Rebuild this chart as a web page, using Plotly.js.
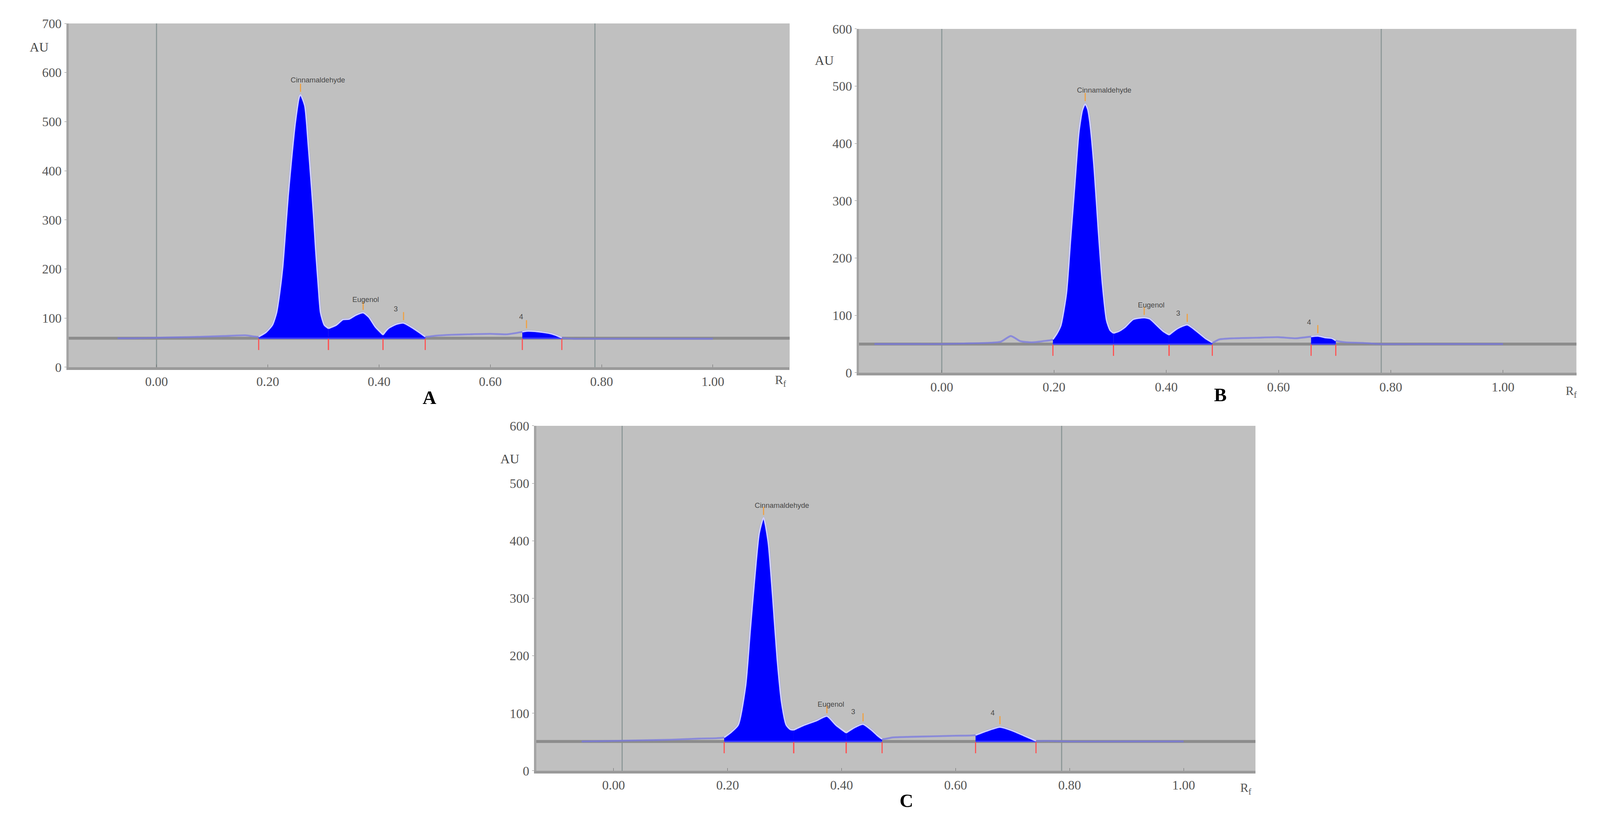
<!DOCTYPE html>
<html>
<head>
<meta charset="utf-8">
<script src="https://cdn.plot.ly/plotly-3.0.1.min.js"></script>
<style>html,body{margin:0;padding:0;overflow:hidden;background:#fff}</style>
</head>
<body>
<div id="chart"></div>
<script>
// densitograms, Rf vs AU
var peakNames = ['Cinnamaldehyde', 'Eugenol', '3', '4'];

// panel A
var rfA = [-0.07,-0.04,0.0,0.04,0.08,0.12,0.16,0.1836,0.1967,0.2083,0.2157,0.2209,0.2267,0.2317,0.2366,0.2425,0.2491,0.2564,0.2588,0.2666,0.2724,0.2774,0.2821,0.2861,0.2908,0.2949,0.3016,0.309,0.3234,0.335,0.346,0.358,0.3714,0.3816,0.3933,0.407,0.4166,0.431,0.444,0.4573,0.472,0.483,0.50,0.53,0.56,0.60,0.63,0.6575,0.665,0.68,0.695,0.71,0.72,0.7285,0.75,0.78,0.85,0.92,1.0];
var auA = [59,59,60,61,62,63.5,65,62,71,86,111,148,203,276,349,422,495,550,555,532,458,385,312,239,166,111,86,79,86,97,98,106,111,102,82,66,79,87.5,90,82,71,62,64,66,67,68,67,72,73.5,73,71,68,64,60,58,58,58,58,58];
var baseA = 59;
var startA = [0.1836, 0.309, 0.407, 0.6575];
var endA = [0.309, 0.407, 0.483, 0.7285];
var frontA = [0.0, 0.788];
var nameRfA = [0.29, 0.376, 0.43, 0.655];
var nameAuA = [585, 138, 119, 103];

// panel B
var rfB = [-0.12,-0.08,-0.04,0.0,0.04,0.08,0.105,0.123,0.14,0.16,0.18,0.198,0.205,0.212,0.222,0.2294,0.2368,0.2443,0.2505,0.2555,0.26,0.264,0.2715,0.279,0.2863,0.2937,0.3,0.306,0.315,0.326,0.341,0.3606,0.3705,0.3854,0.395,0.405,0.4198,0.4373,0.452,0.4695,0.482,0.494,0.52,0.56,0.6,0.63,0.658,0.67,0.685,0.695,0.702,0.72,0.75,0.78,0.85,0.92,1.0];
var auB = [50,50,50,50,51,52,54,64,55,53,55,58,68,82,138,232,326,420,458,469,460,436,357,248,154,91,74,69,72,79,93,96,94,80.5,72,66,77,83.6,74,60,52.5,58,60,61,62,60,63,64,61,60,56,53,52,50,50,50,50];
var baseB = 50;
var startB = [0.198, 0.306, 0.405, 0.658];
var endB = [0.306, 0.405, 0.482, 0.702];
var frontB = [0.0, 0.783];
var nameRfB = [0.289, 0.373, 0.421, 0.654];
var nameAuB = [493, 118, 104, 88];

// panel C
var rfC = [-0.056,0.0,0.05,0.1,0.15,0.194,0.205,0.2185,0.2316,0.2395,0.2475,0.2554,0.2631,0.2712,0.279,0.287,0.295,0.3029,0.31,0.316,0.3344,0.3554,0.3742,0.39,0.408,0.4242,0.4376,0.4534,0.462,0.471,0.49,0.52,0.56,0.6,0.635,0.6567,0.6778,0.6988,0.72,0.741,0.76,0.8,0.9,1.0];
var auC = [51,52,53,54,56,58,66,79.5,148,242,335,413,440,398,304,195,117,79.5,72,71,79.5,87,95,79.5,66,76,81,70,62,55,58,59,60,61,62,70,76,70,61,52,52,51,51,51];
var baseC = 51;
var startC = [0.194, 0.316, 0.408, 0.635];
var endC = [0.316, 0.408, 0.471, 0.741];
var frontC = [0.015, 0.786];
var nameRfC = [0.295, 0.381, 0.4204, 0.6645];
var nameAuC = [462, 116, 103, 101];

// fit to whatever window we get, sizes scaled from the 4407 px original
var W = window.innerWidth || 4407, H = window.innerHeight || 2099;
var s = Math.min(W / 4407, H / 2099);
var serif = 'Liberation Serif, Times New Roman, serif';
var data = [];
var shapes = [];
var annotations = [];

function panel(n, rf, au, base, starts, ends, front, nameRf, nameAu, ymax) {
  var xa = 'x' + (n == 1 ? '' : n), ya = 'y' + (n == 1 ? '' : n);
  // raw scan
  data.push({x: rf, y: au, xaxis: xa, yaxis: ya, mode: 'lines',
    line: {color: 'rgba(120,120,225,0.75)', width: 5 * s, shape: 'spline', smoothing: 0.6}});
  var apexX = [], apexY = [];
  for (var p = 0; p < starts.length; p++) {
    var px = [], py = [];
    for (var i = 0; i < rf.length; i++) {
      if (rf[i] >= starts[p] && rf[i] <= ends[p]) { px.push(rf[i]); py.push(au[i]); }
    }
    var top = py.indexOf(Math.max.apply(null, py));
    apexX.push(px[top]); apexY.push(py[top] + ymax * 0.02);
    data.push({x: [starts[p], ends[p]], y: [base, base], xaxis: xa, yaxis: ya, mode: 'lines',
      line: {color: '#3a3aff', width: 4 * s}});
    data.push({x: px, y: py, xaxis: xa, yaxis: ya, mode: 'lines', fill: 'tonexty',
      fillcolor: '#0000ff', line: {color: 'rgba(215,215,255,0.95)', width: 4 * s, shape: 'spline', smoothing: 0.6}});
  }
  // integration limits and apex marks
  var lim = starts.concat(ends);
  data.push({x: lim, y: lim.map(function () { return base - ymax * 0.018; }), xaxis: xa, yaxis: ya,
    mode: 'markers', marker: {symbol: 'line-ns', size: 22 * s, line: {color: '#ff5050', width: 3 * s}}});
  data.push({x: apexX, y: apexY, xaxis: xa, yaxis: ya, mode: 'markers',
    marker: {symbol: 'line-ns', size: 16 * s, line: {color: '#f0a040', width: 3 * s}}});

  front.forEach(function (f) {
    shapes.push({type: 'line', xref: xa, yref: ya + ' domain', x0: f, x1: f, y0: 0, y1: 1,
      layer: 'below', line: {color: '#8a9696', width: 3 * s}});
  });
  shapes.push({type: 'line', xref: xa + ' domain', yref: ya, x0: 0, x1: 1, y0: base, y1: base,
    layer: 'below', line: {color: '#8c8c8c', width: 8 * s}});

  for (var k = 0; k < peakNames.length; k++) {
    annotations.push({xref: xa, yref: ya, x: nameRf[k], y: nameAu[k], text: peakNames[k],
      xanchor: 'center', yanchor: 'middle', showarrow: false,
      font: {family: 'Liberation Sans, Arial, sans-serif', size: 20 * s, color: '#484848'}});
  }
}

panel(1, rfA, auA, baseA, startA, endA, frontA, nameRfA, nameAuA, 700);
panel(2, rfB, auB, baseB, startB, endB, frontB, nameRfB, nameAuB, 600);
panel(3, rfC, auC, baseC, startC, endC, frontC, nameRfC, nameAuC, 600);

function xax(dom, range, anchor) {
  return {domain: dom, range: range, anchor: anchor, tickvals: [0, 0.2, 0.4, 0.6, 0.8, 1.0],
    ticktext: ['0.00', '0.20', '0.40', '0.60', '0.80', '1.00'], showgrid: false, zeroline: false,
    showline: true, linecolor: '#9a9a9a', linewidth: 8 * s, ticks: 'inside', ticklen: 8 * s, tickcolor: '#666',
    tickfont: {family: serif, size: 36 * s, color: '#555'}, fixedrange: true};
}
function yax(dom, max, anchor) {
  return {domain: dom, range: [0, max], anchor: anchor, dtick: 100, showgrid: false, zeroline: false,
    showline: true, linecolor: '#a4a4a4', linewidth: 6 * s, ticks: 'outside', ticklen: 6 * s, tickcolor: '#888',
    tickfont: {family: serif, size: 36 * s, color: '#555'}, fixedrange: true};
}

function txt(x, y, t, size, bold, color) {
  annotations.push({xref: 'paper', yref: 'paper', x: x / 4407, y: 1 - y / 2099,
    xanchor: 'center', yanchor: 'middle', text: bold ? '<b>' + t + '</b>' : t,
    showarrow: false, font: {family: serif, size: size * s, color: color}});
}
txt(108, 120, 'AU', 36, false, '#444');
txt(2270, 154, 'AU', 36, false, '#444');
txt(1404, 1174, 'AU', 36, false, '#444');
txt(2150, 975, 'R<sub>f</sub>', 34, false, '#555');
txt(4328, 1003, 'R<sub>f</sub>', 34, false, '#555');
txt(3432, 2019, 'R<sub>f</sub>', 34, false, '#555');
txt(1183, 1017, 'A', 52, true, '#000');
txt(3361, 1010, 'B', 52, true, '#000');
txt(2497, 2049, 'C', 52, true, '#000');

var layout = {
  width: W, height: H, margin: {l: 0, r: 0, t: 0, b: 0},
  paper_bgcolor: '#ffffff', plot_bgcolor: '#c0c0c0', showlegend: false,
  xaxis: xax([0.04289, 0.49353], [-0.158, 1.138], 'y'),
  yaxis: yax([0.55217, 0.97141], 700, 'x'),
  xaxis2: xax([0.53687, 0.98525], [-0.1475, 1.1307], 'y2'),
  yaxis2: yax([0.54550, 0.96475], 600, 'x2'),
  xaxis3: xax([0.33515, 0.78466], [-0.1357, 1.126], 'y3'),
  yaxis3: yax([0.06003, 0.48071], 600, 'x3'),
  shapes: shapes, annotations: annotations
};

Plotly.newPlot('chart', data, layout, {displayModeBar: false, staticPlot: true});
</script>
</body>
</html>
